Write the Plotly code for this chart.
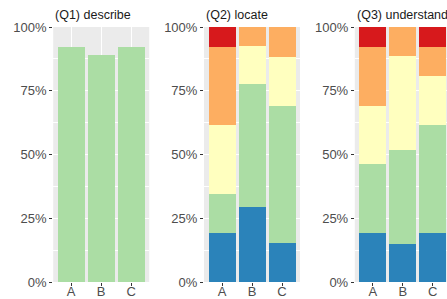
import plotly.graph_objects as go

categories = ["A", "B", "C"]
questions = ["(Q1) describe", "(Q2) locate", "(Q3) understand"]

level_names = ["Level 5", "Level 4", "Level 3", "Level 2", "Level 1"]
level_colors = ["#2b83ba", "#abdda4", "#ffffbf", "#fdae61", "#d7191c"]

# values per question (Q1, Q2, Q3), each for categories A, B, C
blue = [[0, 0, 0], [0.192, 0.296, 0.154], [0.192, 0.148, 0.192]]
green = [[0.923, 0.889, 0.923], [0.154, 0.482, 0.538], [0.269, 0.370, 0.423]]
yellow = [[0, 0, 0], [0.269, 0.148, 0.192], [0.231, 0.370, 0.192]]
orange = [[0, 0, 0], [0.308, 0.074, 0.115], [0.231, 0.111, 0.115]]
red = [[0, 0, 0], [0.077, 0, 0], [0.077, 0, 0.077]]

y_ticks = [0, 0.25, 0.5, 0.75, 1.0]
y_tick_text = ["0%", "25%", "50%", "75%", "100%"]
y_minor = [0.125, 0.375, 0.625, 0.875]

W, H = 447, 299
panel_left = [53.2, 204.0, 354.8]
panel_w = 96.0
px_per_unit = panel_w / 3.2
y_bottom, y_top = 282.0, 27.0

fig = go.Figure()
series = [blue, green, yellow, orange, red]
for qi in range(3):
    suffix = "" if qi == 0 else str(qi + 1)
    for li, vals in enumerate(series):
        fig.add_trace(go.Bar(
            x=categories, y=vals[qi], name=level_names[li],
            marker=dict(color=level_colors[li], line=dict(width=0)),
            width=0.9, showlegend=False,
            xaxis="x" + suffix, yaxis="y" + suffix,
        ))

tick_font = dict(family="Liberation Sans, Arial, sans-serif", size=13, color="#4d4d4d")
layout = dict(
    width=W, height=H, margin=dict(l=0, r=0, t=0, b=0, autoexpand=False),
    paper_bgcolor="white", plot_bgcolor="#ebebeb",
    barmode="stack", showlegend=False,
)
annotations = []
for qi in range(3):
    suffix = "" if qi == 0 else str(qi + 1)
    x0 = panel_left[qi] / W
    x1 = min((panel_left[qi] + panel_w) / W, 1.0)
    right_px = min(panel_left[qi] + panel_w, W)
    rng_end = -0.6 + (right_px - panel_left[qi]) / px_per_unit
    layout["xaxis" + suffix] = dict(
        domain=[x0, x1], anchor="y" + suffix, type="category",
        categoryorder="array", categoryarray=categories,
        range=[-0.6, rng_end], showgrid=True, gridcolor="white", gridwidth=1,
        ticks="outside", ticklen=3, tickcolor="#333333", tickwidth=1,
        ticklabelstandoff=-6,
        tickfont=tick_font, zeroline=False, showline=False, fixedrange=True,
        automargin=False,
    )
    layout["yaxis" + suffix] = dict(
        domain=[1 - y_bottom / H, 1 - y_top / H], anchor="x" + suffix,
        range=[0, 1], tickvals=y_ticks, ticktext=y_tick_text,
        showgrid=True, gridcolor="white", gridwidth=1.1,
        minor=dict(tickvals=y_minor, showgrid=True, gridcolor="white", gridwidth=0.5, ticks=""),
        ticks="outside", ticklen=3, tickcolor="#333333", tickwidth=1,
        tickfont=tick_font, zeroline=False, showline=False, fixedrange=True,
        automargin=False,
    )
    annotations.append(dict(
        text=questions[qi], x=x0, y=1 - 15.5 / H, xref="paper", yref="paper",
        xanchor="left", yanchor="middle", showarrow=False,
        font=dict(family="Liberation Sans, Arial, sans-serif", size=12.5, color="#1a1a1a"),
    ))
layout["annotations"] = annotations
fig.update_layout(**layout)
fig.write_html(
    "out.html",
    config={"displayModeBar": False},
    post_script="document.body.style.margin='0';document.body.style.padding='0';",
)
